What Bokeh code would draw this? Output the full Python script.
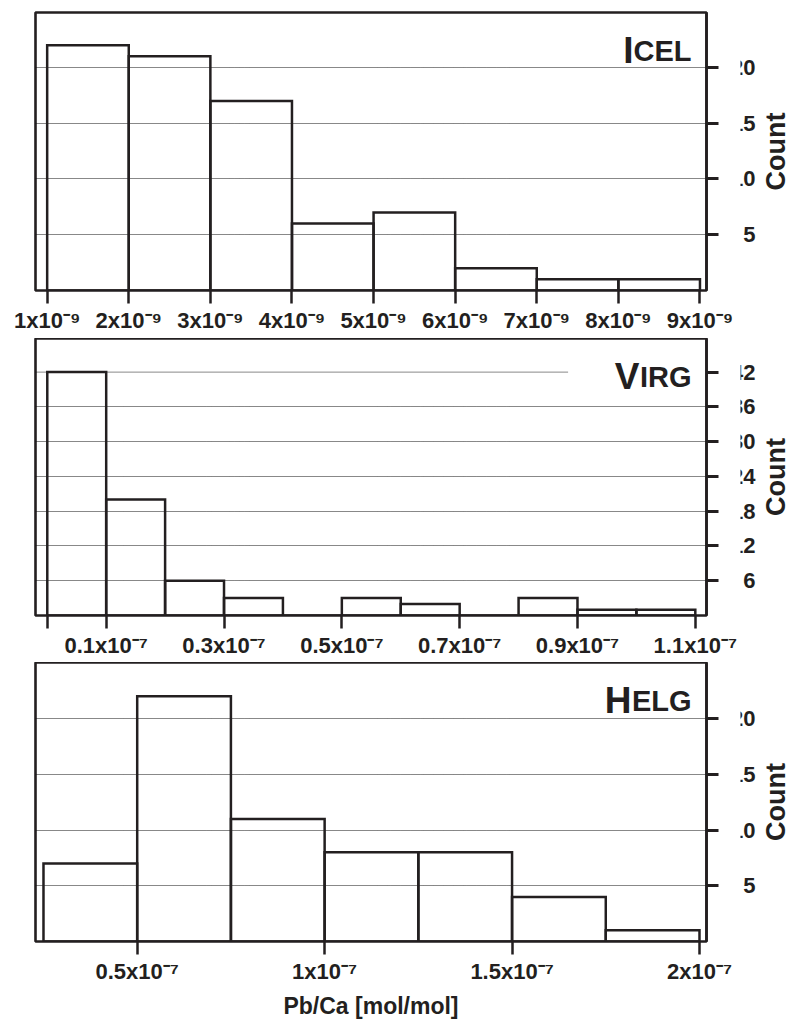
import math

from bokeh.plotting import figure
from bokeh.layouts import column, row
from bokeh.models import ColumnDataSource, FixedTicker, Label, Range1d
from bokeh.core.properties import value
from bokeh.embed import file_html
from bokeh.resources import INLINE

# ---------------------------------------------------------------- data
# Iceland: Pb/Ca bins in units of 10^-9 mol/mol
icel_edges = [1, 2, 3, 4, 5, 6, 7, 8, 9]
icel_counts = [22, 21, 17, 6, 7, 2, 1, 1]
icel_xticks = [1, 2, 3, 4, 5, 6, 7, 8, 9]
icel_xlabels = ["1x10⁻⁹", "2x10⁻⁹", "3x10⁻⁹", "4x10⁻⁹", "5x10⁻⁹",
                "6x10⁻⁹", "7x10⁻⁹", "8x10⁻⁹", "9x10⁻⁹"]
icel_yticks = [5, 10, 15, 20]

# Virginia: Pb/Ca bins in units of 10^-7 mol/mol
virg_edges = [0.0, 0.1, 0.2, 0.3, 0.4, 0.5, 0.6, 0.7, 0.8, 0.9, 1.0, 1.1]
virg_counts = [42, 20, 6, 3, 0, 3, 2, 0, 3, 1, 1]
virg_xticks = [0.0, 0.1, 0.3, 0.5, 0.7, 0.9, 1.1]
virg_xlabels = ["", "0.1x10⁻⁷", "0.3x10⁻⁷", "0.5x10⁻⁷", "0.7x10⁻⁷",
                "0.9x10⁻⁷", "1.1x10⁻⁷"]
virg_yticks = [6, 12, 18, 24, 30, 36, 42]

# Helgoland: Pb/Ca bins in units of 10^-7 mol/mol
helg_edges = [0.25, 0.5, 0.75, 1.0, 1.25, 1.5, 1.75, 2.0]
helg_counts = [7, 22, 11, 8, 8, 4, 1]
helg_xticks = [0.5, 1.0, 1.5, 2.0]
helg_xlabels = ["0.5x10⁻⁷", "1x10⁻⁷", "1.5x10⁻⁷", "2x10⁻⁷"]
helg_yticks = [5, 10, 15, 20]

# ---------------------------------------------------------------- style
INK = "#231f20"
FONT = "Liberation Sans"
GRID = "#111111"
TICK_LEN = 12
FRAME_RIGHT = 706
MAIN_W = 740              # histogram figure, room for the last x label
SIDE_W = 790 - MAIN_W     # strip with the count numbers and the "Count" title
NUM_RIGHT = 755 - MAIN_W  # right edge of the count numbers inside the strip
COUNT_X = 775 - MAIN_W    # centre of the rotated title inside the strip


def add_title(p, big, small, x_end, y_top, small_width):
    common = dict(x=x_end, y=y_top, text_align="right", text_baseline="alphabetic",
                  text_font=FONT, text_font_style="bold", text_color=INK, y_offset=-38)
    p.add_layout(Label(text=small, x_offset=-15, text_font_size="29px", **common))
    p.add_layout(Label(text=big, x_offset=-15 - small_width, text_font_size="37px", **common))


def count_strip(main, yticks, y_top, height, border_top, border_bottom):
    # shares the count scale of the histogram next to it
    s = figure(width=SIDE_W, height=height, x_range=Range1d(0, SIDE_W),
               y_range=main.y_range, output_backend="svg", toolbar_location=None,
               min_border_left=0, min_border_right=0,
               min_border_top=border_top, min_border_bottom=border_bottom,
               x_axis_location=None, y_axis_location=None)
    s.outline_line_color = None
    s.xgrid.visible = False
    s.ygrid.visible = False
    s.text(x=[NUM_RIGHT] * len(yticks), y=yticks, text=[str(t) for t in yticks],
           text_align="right", text_baseline="middle",
           text_font=value(FONT), text_font_style="bold", text_font_size="22px",
           text_color=INK)
    s.text(x=[COUNT_X], y=[y_top / 2], text=["Count"],
           angle=math.pi / 2, text_align="center", text_baseline="middle",
           text_font=value(FONT), text_font_style="bold", text_font_size="27px",
           text_color=INK)
    return s


def panel(edges, counts, x_range, y_top, xticks, xlabels, yticks, grid_ticks,
          height, border_top, border_bottom, xlabel=None):
    p = figure(width=MAIN_W, height=height,
               x_range=Range1d(*x_range), y_range=Range1d(0, y_top),
               y_axis_location="right", output_backend="svg", toolbar_location=None,
               min_border_left=35, min_border_right=MAIN_W - FRAME_RIGHT,
               min_border_top=border_top, min_border_bottom=border_bottom)
    p.outline_line_color = INK
    p.outline_line_width = 2.6

    src = ColumnDataSource(dict(left=edges[:-1], right=edges[1:], top=counts,
                                bottom=[0] * len(counts)))
    p.quad(left="left", right="right", top="top", bottom="bottom", source=src,
           fill_color=None, line_color=INK, line_width=2.5, line_join="miter")

    # x axis
    xa = p.xaxis[0]
    xa.ticker = FixedTicker(ticks=xticks)
    xa.major_label_overrides = {t: s for t, s in zip(xticks, xlabels)}
    xa.axis_line_color = None
    xa.major_tick_out = 13
    xa.major_tick_in = 0
    xa.major_tick_line_width = 2.5
    xa.major_tick_line_color = INK
    xa.minor_tick_line_color = None
    xa.major_label_standoff = 4
    xa.major_label_text_font = FONT
    xa.major_label_text_font_style = "bold"
    xa.major_label_text_font_size = "22px"
    xa.major_label_text_color = INK
    if xlabel:
        xa.axis_label = xlabel
        xa.axis_label_standoff = 6
        xa.axis_label_text_font = FONT
        xa.axis_label_text_font_style = "bold"
        xa.axis_label_text_font_size = "23px"
        xa.axis_label_text_color = INK

    # count ticks on the right; their numbers sit in the side strip
    ya = p.yaxis[0]
    ya.ticker = FixedTicker(ticks=yticks)
    ya.major_label_overrides = {t: "" for t in yticks}
    ya.axis_line_color = INK
    ya.axis_line_width = 2.6
    ya.major_tick_out = TICK_LEN
    ya.major_tick_in = 0
    ya.major_tick_line_width = 3
    ya.major_tick_line_color = INK
    ya.minor_tick_line_color = None
    ya.major_label_standoff = 0

    # dotted horizontal guides
    p.xgrid.visible = False
    g = p.ygrid[0]
    g.ticker = FixedTicker(ticks=grid_ticks)
    g.grid_line_color = GRID
    g.grid_line_dash = "1 1"
    g.grid_line_width = 1
    return p


icel_range = (0.857, 9.08)
virg_range = (-0.02, 1.119)
helg_range = (0.2287, 2.0187)

p1 = panel(icel_edges, icel_counts, icel_range, 24.93, icel_xticks, icel_xlabels,
           icel_yticks, icel_yticks, height=338, border_top=12, border_bottom=48)
add_title(p1, "I", "CEL", icel_range[1], 24.93, 58)

p2 = panel(virg_edges, virg_counts, virg_range, 47.8, virg_xticks, virg_xlabels,
           virg_yticks, virg_yticks[:-1], height=324, border_top=0, border_bottom=47)
# the top guide stops short of the site name
virg_top_guide_end = 0.884
p2.segment(x0=[virg_range[0]], y0=[virg_yticks[-1]], x1=[virg_top_guide_end],
           y1=[virg_yticks[-1]], line_color=GRID, line_dash="1 1", line_width=1,
           level="underlay")
add_title(p2, "V", "IRG", virg_range[1], 47.8, 52)

p3 = panel(helg_edges, helg_counts, helg_range, 25.04, helg_xticks, helg_xlabels,
           helg_yticks, helg_yticks, height=359, border_top=0, border_bottom=79,
           xlabel="Pb/Ca [mol/mol]")
add_title(p3, "H", "ELG", helg_range[1], 25.04, 60)

layout = column(
    row(p1, count_strip(p1, icel_yticks, 24.93, 338, 12, 48), spacing=0),
    row(p2, count_strip(p2, virg_yticks, 47.8, 324, 0, 47), spacing=0),
    row(p3, count_strip(p3, helg_yticks, 25.04, 359, 0, 79), spacing=0),
    spacing=0,
)
open("out.html", "w").write(file_html(layout, INLINE))
